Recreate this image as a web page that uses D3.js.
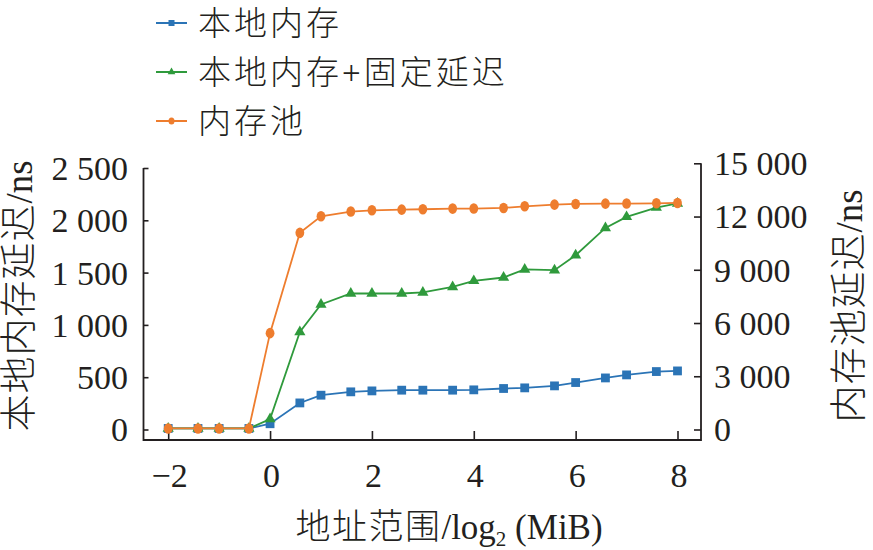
<!DOCTYPE html>
<html><head><meta charset="utf-8">
<script src="https://cdn.jsdelivr.net/npm/d3@7"></script>
<style>
body{margin:0;background:#fff;}
svg{display:block;}
.num{font-family:"Liberation Serif","Times New Roman",serif;}
.cjk{font-family:"Noto Sans CJK SC","Liberation Serif",sans-serif;font-weight:300;}
</style></head>
<body><svg id="c" width="873" height="550"></svg>
<script>
// log2 of address range (MiB)
const xVals = [-2, -1.415, -1, -0.415, 0, 0.585, 1, 1.585, 2, 2.585, 3, 3.585, 4, 4.585, 5, 5.585, 6, 6.585, 7, 7.585, 8];
// 本地内存 (ns, left axis)
const localMem = [10, 10, 10, 10, 55, 254, 328, 360, 369, 376, 376, 376, 379, 392, 398, 417, 449, 493, 522, 554, 560];
// 本地内存+固定延迟 (ns, left axis)
const localFixed = [10, 10, 10, 10, 100, 933, 1195, 1300, 1300, 1300, 1310, 1363, 1421, 1453, 1530, 1523, 1666, 1927, 2033, 2122, 2161];
// 内存池 (ns, right axis)
const memPool = [60, 60, 60, 60, 5430, 11080, 12015, 12280, 12350, 12390, 12410, 12447, 12450, 12486, 12576, 12672, 12711, 12728, 12730, 12745, 12768];

const xTicks = [-2, 0, 2, 4, 6, 8];
const leftTicks = [0, 500, 1000, 1500, 2000, 2500];
const rightTicks = [0, 3000, 6000, 9000, 12000, 15000];
const seriesNames = ["本地内存", "本地内存+固定延迟", "内存池"];
const colors = ["#2b74b6", "#2f9a3c", "#ee7d2e"];

const svg = d3.select("#c");
const x = d3.scaleLinear().domain([-2, 8]).range([168.2, 677.5]);
const yL = d3.scaleLinear().domain([0, 2500]).range([429.5, 168]);
const yR = d3.scaleLinear().domain([0, 15000]).range([429.5, 163.3]);

const axL = 143.5, axR = 701, axB = 440;
const fmt = v => {
  const s = Math.abs(v).toString();
  const t = s.length > 3 ? s.slice(0, s.length - 3) + " " + s.slice(-3) : s;
  return (v < 0 ? "\u2212" : "") + t;
};

// axes
const gL = svg.append("g").attr("transform", `translate(${axL},0)`)
  .call(d3.axisRight(yL).tickValues(leftTicks).tickSize(5).tickFormat(""));
const gR = svg.append("g").attr("transform", `translate(${axR},0)`)
  .call(d3.axisLeft(yR).tickValues(rightTicks).tickSize(7).tickFormat(""));
const gB = svg.append("g").attr("transform", `translate(0,${axB})`)
  .call(d3.axisTop(x).tickValues(xTicks).tickSize(9).tickFormat(""));
[gL, gR, gB].forEach(g => {
  g.select(".domain").remove();
  g.selectAll(".tick line").attr("stroke", "#231f20").attr("stroke-width", 1.6);
});
svg.append("path")
  .attr("d", `M${axL},${yL(2500)}V${axB}H${axR}V${yR(15000)}`)
  .attr("fill", "none").attr("stroke", "#231f20").attr("stroke-width", 1.8);

// tick labels
svg.append("g").selectAll("text").data(leftTicks).join("text")
  .attr("class", "num").attr("x", 128).attr("y", d => yL(d)).attr("dy", "0.35em")
  .attr("text-anchor", "end").attr("font-size", 34).attr("fill", "#231f20").text(fmt);
svg.append("g").selectAll("text").data(rightTicks).join("text")
  .attr("class", "num").attr("x", 714).attr("y", d => yR(d)).attr("dy", "0.35em")
  .attr("text-anchor", "start").attr("font-size", 34).attr("fill", "#231f20").text(fmt);
svg.append("g").selectAll("text").data(xTicks).join("text")
  .attr("class", "num").attr("x", d => x(d) + 1.5).attr("y", 487)
  .attr("text-anchor", "middle").attr("font-size", 34).attr("fill", "#231f20").text(fmt);

// axis titles
const tl = svg.append("text").attr("transform", "translate(19,296) rotate(-90)")
  .attr("dy", "0.36em").attr("text-anchor", "middle").attr("fill", "#231f20").attr("font-size", 37);
tl.append("tspan").attr("class", "cjk").attr("letter-spacing", 1).text("本地内存延迟");
tl.append("tspan").attr("class", "num").text("/ns");
const tr = svg.append("text").attr("transform", "translate(849,306) rotate(-90)")
  .attr("dy", "0.36em").attr("text-anchor", "middle").attr("fill", "#231f20").attr("font-size", 37);
tr.append("tspan").attr("class", "cjk").attr("letter-spacing", 1).text("内存池延迟");
tr.append("tspan").attr("class", "num").text("/ns");
const tb = svg.append("text").attr("x", 449).attr("y", 539)
  .attr("text-anchor", "middle").attr("fill", "#231f20").attr("font-size", 35);
tb.append("tspan").attr("class", "cjk").attr("letter-spacing", 1.5).text("地址范围");
tb.append("tspan").attr("class", "num").text("/log");
tb.append("tspan").attr("class", "num").attr("font-size", 21).attr("dy", 7).text("2");
tb.append("tspan").attr("class", "num").attr("dy", -7).text(" (MiB)");

// series
const series = [
  {vals: localMem, y: yL, shape: "square"},
  {vals: localFixed, y: yL, shape: "triangle"},
  {vals: memPool, y: yR, shape: "circle"}
];
function marker(sel, shape, color, s) {
  if (shape === "square") {
    sel.append("rect").attr("x", -s).attr("y", -s).attr("width", 2 * s).attr("height", 2 * s).attr("fill", color);
  } else if (shape === "triangle") {
    sel.append("path").attr("d", d3.symbol(d3.symbolTriangle, s * s * 2.8)()).attr("fill", color);
  } else {
    sel.append("ellipse").attr("rx", s).attr("ry", s * 1.2).attr("fill", color);
  }
}
series.forEach((s, i) => {
  const pts = xVals.map((xv, j) => [x(xv), s.y(s.vals[j])]);
  const g = svg.append("g");
  g.append("path").attr("d", d3.line()(pts)).attr("fill", "none")
    .attr("stroke", colors[i]).attr("stroke-width", 1.8);
  g.selectAll("g").data(pts).join("g")
    .attr("transform", d => `translate(${d[0]},${d[1]})`)
    .each(function () { marker(d3.select(this), s.shape, colors[i], 4.4); });
});

// legend
const legY = [23, 72, 121];
seriesNames.forEach((n, i) => {
  const g = svg.append("g").attr("transform", `translate(0,${legY[i]})`);
  g.append("line").attr("x1", 156).attr("x2", 187).attr("y1", 0).attr("y2", 0)
    .attr("stroke", colors[i]).attr("stroke-width", 2);
  const m = g.append("g").attr("transform", "translate(171.5,0)");
  marker(m, series[i].shape, colors[i], 3);
  const t = g.append("text").attr("x", 198).attr("y", 0).attr("dy", "0.36em")
    .attr("font-size", 33).attr("fill", "#231f20");
  if (i === 1) {
    t.append("tspan").attr("class", "cjk").attr("letter-spacing", 3).text("本地内存");
    t.append("tspan").attr("class", "num").attr("letter-spacing", 3).text("+");
    t.append("tspan").attr("class", "cjk").attr("letter-spacing", 3).text("固定延迟");
  } else {
    t.append("tspan").attr("class", "cjk").attr("letter-spacing", 3).text(n);
  }
});
</script></body></html>
